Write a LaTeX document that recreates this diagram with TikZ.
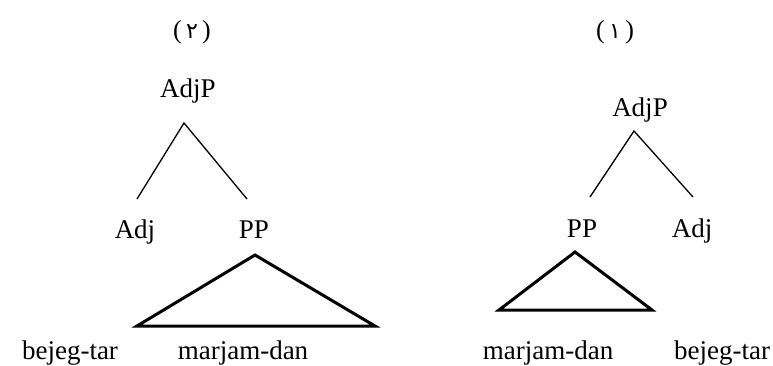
\documentclass[tikz,border=0pt]{standalone}
\usepackage{fontspec}
\setmainfont{Liberation Serif}
\newfontfamily\arabicfont{DejaVu Sans}
\begin{document}
\begin{tikzpicture}[x=1pt,y=-1pt,
  lab/.style={inner sep=0pt,anchor=base,font=\fontsize{27}{30}\selectfont},
  num/.style={inner sep=0pt,anchor=center,font=\fontsize{26}{30}\selectfont},
  branch/.style={line width=1.3pt},
  tri/.style={line width=3pt,line join=miter}]
\useasboundingbox (0,0) rectangle (773,365);
% ---- left tree (2)
\node[num] (numB) at (192,32) {(\,{\arabicfont\fontsize{22}{26}\selectfont ٢}\,)};
\node[lab] (adjpL) at (188,97) {AdjP};
\node[lab] (adjL) at (135,238) {Adj};
\node[lab] (ppL) at (254,238) {PP};
\coordinate (apL) at (184,123);
\coordinate (lL) at (137,199);
\coordinate (rL) at (247,199);
\draw[branch] (lL) -- (apL) -- (rL);
\coordinate (tLa) at (255,255);
\coordinate (tLb) at (137,326);
\coordinate (tLc) at (375,326);
\draw[tri] (tLa) -- (tLb) -- (tLc) -- cycle;
\node[lab] (bejL) at (70,359) {bejeg-tar};
\node[lab] (marL) at (243,359) {marjam-dan};
% ---- right tree (1)
\node[num] (numA) at (615,32) {(\,{\arabicfont\fontsize{22}{26}\selectfont ١}\,)};
\node[lab] (adjpR) at (640,116) {AdjP};
\node[lab] (ppR) at (582,237) {PP};
\node[lab] (adjR) at (692,237) {Adj};
\coordinate (apR) at (634,131);
\coordinate (lR) at (590,197);
\coordinate (rR) at (693,197);
\draw[branch] (lR) -- (apR) -- (rR);
\coordinate (tRa) at (575,252);
\coordinate (tRb) at (499,310);
\coordinate (tRc) at (652,310);
\draw[tri] (tRa) -- (tRb) -- (tRc) -- cycle;
\node[lab] (marR) at (548,359) {marjam-dan};
\node[lab] (bejR) at (722,359) {bejeg-tar};
\end{tikzpicture}
\end{document}
